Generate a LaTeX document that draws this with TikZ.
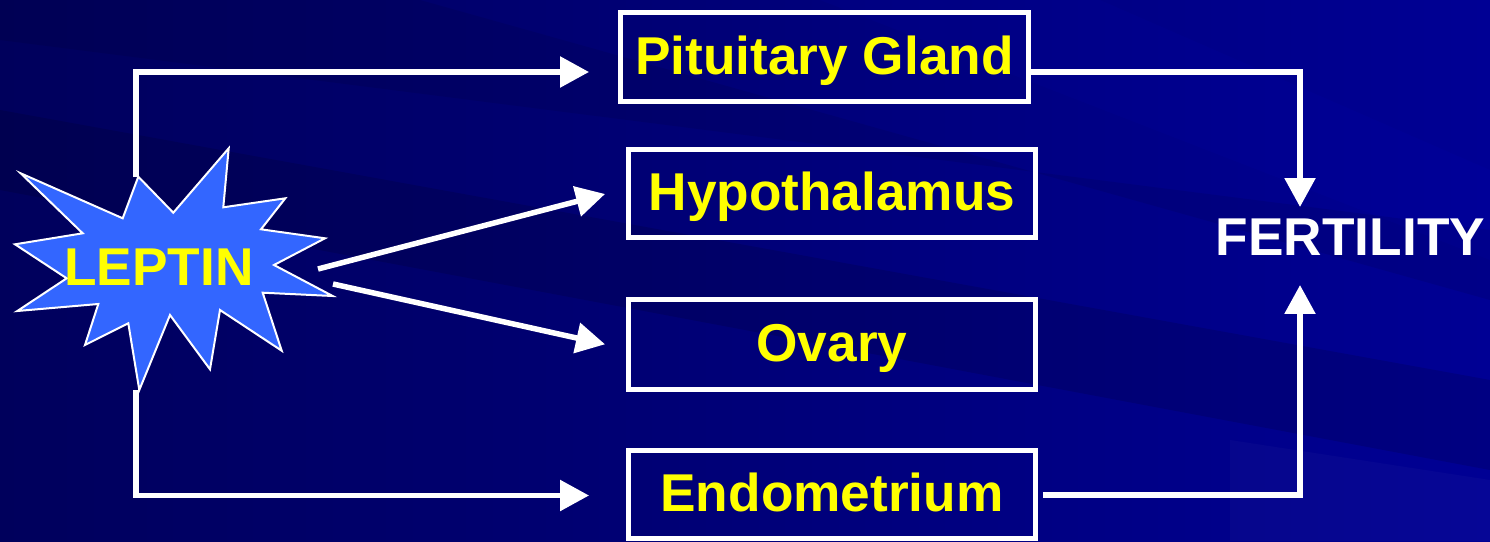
\documentclass[tikz,border=0pt]{standalone}
\usepackage{fontspec}
\setmainfont{Liberation Sans}
\usetikzlibrary{arrows.meta,positioning,calc}
\definecolor{slidedark}{HTML}{00005C}
\definecolor{slidelight}{HTML}{000094}
\definecolor{burst}{HTML}{3366FF}
\definecolor{labelyellow}{HTML}{FFFF00}
\newcommand{\slidefont}{\fontsize{30.3pt}{34pt}\selectfont}
\tikzset{
  organ/.style={draw=white, line width=0.1cm, text=labelyellow, font=\bfseries\slidefont,
    minimum width=8.14cm, minimum height=1.78cm, inner sep=0pt, text height=24pt, text depth=4.6pt},
  flow/.style={draw=white, line width=0.11cm, -{Triangle[length=0.58cm, width=0.6cm]}}
}

\begin{document}
\begin{tikzpicture}[x=0.02cm, y=-0.02cm]
    \useasboundingbox (0,0) rectangle (1490,541);
    \shade[left color=slidedark, right color=slidelight] (0,0) rectangle (1490,541);
    \fill[black, opacity=0.12] (0,110) -- (0,190) -- (1490,470) -- (1490,380) -- cycle;
    \fill[black, opacity=0.08] (0,0) -- (420,0) -- (1490,300) -- (1490,230) -- (0,40) -- cycle;
    \fill[blue, opacity=0.04] (820,0) -- (1100,0) -- (1490,170) -- (1490,260) -- cycle;
    \fill[white, opacity=0.025] (1230,440) -- (1490,480) -- (1490,541) -- (1230,541) -- cycle;

    \draw[fill=burst, draw=white, line width=0.04cm]
      (20.7,173.3) -- (122.7,218.3) -- (138.3,176.7) -- (173.3,212.7) -- (228.7,148.3)
      -- (223.3,207.3) -- (285.3,198.3) -- (261,229.3) -- (325,238.3) -- (274,265)
      -- (332.7,296) -- (262.7,292.7) -- (281.7,350.7) -- (220,310) -- (210,369.3)
      -- (170,315) -- (139.3,390) -- (128.3,323.3) -- (85,345) -- (98.3,304)
      -- (17.3,311) -- (66.7,278.3) -- (15,244.3) -- (82.7,233.3) -- cycle;
    \node[text=labelyellow, font=\bfseries\slidefont, anchor=base] (leptin) at (159,285) {LEPTIN};

    \node[organ, minimum width=8.16cm] (pit) at (824.5,57) {Pituitary Gland};
    \node[organ, minimum height=1.76cm] (hyp) at (832,193.5) {Hypothalamus};
    \node[organ, minimum height=1.8cm] (ova) at (832,344.8) {Ovary};
    \node[organ, minimum height=1.76cm] (endo) at (832,494.5) {Endometrium};
    \node[text=white, font=\bfseries\slidefont, anchor=base] (fert) at (1350.5,255) {FERTILITY};

    \coordinate (burstN) at (136,177);
    \coordinate (burstS) at (136,390);
    \coordinate (burstE1) at (318,269);
    \coordinate (burstE2) at (333,284);
    \coordinate (fertN) at (1300,207);
    \coordinate (fertS) at (1300,285);

    \draw[flow] (burstN) |- ($(pit.west)+(-29,15)$);
    \draw[flow] (burstE1) -- ($(hyp.west)+(-21,0.5)$);
    \draw[flow] (burstE2) -- ($(ova.west)+(-21,-0.5)$);
    \draw[flow] (burstS) |- ($(endo.west)+(-37,1)$);
    \draw[flow] ($(pit.east)+(0,15)$) -| (fertN);
    \draw[flow] ($(endo.east)+(5,0.5)$) -| (fertS);
\end{tikzpicture}
\end{document}
